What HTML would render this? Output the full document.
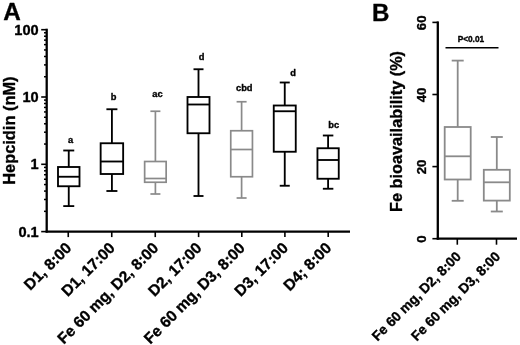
<!DOCTYPE html>
<html><head><meta charset="utf-8"><title>Figure</title>
<style>
html,body{margin:0;padding:0;background:#fff;}
body{width:520px;height:345px;overflow:hidden;}
svg{display:block;will-change:transform;font-family:"Liberation Sans",sans-serif;}
text{stroke:#000;stroke-width:0.35px;stroke-linejoin:round;}
</style></head><body>
<svg width="520" height="345" viewBox="0 0 520 345">
<rect width="520" height="345" fill="#fff"/>
<g stroke="#000" stroke-width="2.3" fill="none" stroke-linecap="butt">
<line x1="46.7" x2="46.7" y1="28.7" y2="232.59999999999997"/>
<line x1="45.7" x2="350" y1="231.59999999999997" y2="231.59999999999997"/>
</g>
<g stroke="#000" stroke-width="1.6" fill="none">
<line x1="41.2" x2="46.7" y1="29.70" y2="29.70"/>
<line x1="41.2" x2="46.7" y1="97.00" y2="97.00"/>
<line x1="41.2" x2="46.7" y1="164.30" y2="164.30"/>
<line x1="41.2" x2="46.7" y1="231.60" y2="231.60"/>
</g>
<g stroke="#000" stroke-width="1.5" fill="none">
<line x1="44.00" x2="46.7" y1="76.74" y2="76.74"/>
<line x1="44.00" x2="46.7" y1="64.89" y2="64.89"/>
<line x1="44.00" x2="46.7" y1="56.48" y2="56.48"/>
<line x1="44.00" x2="46.7" y1="49.96" y2="49.96"/>
<line x1="44.00" x2="46.7" y1="44.63" y2="44.63"/>
<line x1="44.00" x2="46.7" y1="40.12" y2="40.12"/>
<line x1="44.00" x2="46.7" y1="36.22" y2="36.22"/>
<line x1="44.00" x2="46.7" y1="32.78" y2="32.78"/>
<line x1="44.00" x2="46.7" y1="144.04" y2="144.04"/>
<line x1="44.00" x2="46.7" y1="132.19" y2="132.19"/>
<line x1="44.00" x2="46.7" y1="123.78" y2="123.78"/>
<line x1="44.00" x2="46.7" y1="117.26" y2="117.26"/>
<line x1="44.00" x2="46.7" y1="111.93" y2="111.93"/>
<line x1="44.00" x2="46.7" y1="107.42" y2="107.42"/>
<line x1="44.00" x2="46.7" y1="103.52" y2="103.52"/>
<line x1="44.00" x2="46.7" y1="100.08" y2="100.08"/>
<line x1="44.00" x2="46.7" y1="211.34" y2="211.34"/>
<line x1="44.00" x2="46.7" y1="199.49" y2="199.49"/>
<line x1="44.00" x2="46.7" y1="191.08" y2="191.08"/>
<line x1="44.00" x2="46.7" y1="184.56" y2="184.56"/>
<line x1="44.00" x2="46.7" y1="179.23" y2="179.23"/>
<line x1="44.00" x2="46.7" y1="174.72" y2="174.72"/>
<line x1="44.00" x2="46.7" y1="170.82" y2="170.82"/>
<line x1="44.00" x2="46.7" y1="167.38" y2="167.38"/>
</g>
<g stroke="#000" stroke-width="1.6" fill="none">
<line x1="68.25" x2="68.25" y1="231.59999999999997" y2="237.09999999999997"/>
<line x1="111.75" x2="111.75" y1="231.59999999999997" y2="237.09999999999997"/>
<line x1="155.25" x2="155.25" y1="231.59999999999997" y2="237.09999999999997"/>
<line x1="198.6" x2="198.6" y1="231.59999999999997" y2="237.09999999999997"/>
<line x1="241.8" x2="241.8" y1="231.59999999999997" y2="237.09999999999997"/>
<line x1="284.9" x2="284.9" y1="231.59999999999997" y2="237.09999999999997"/>
<line x1="328.2" x2="328.2" y1="231.59999999999997" y2="237.09999999999997"/>
</g>
<g font-size="14.6" font-weight="bold" text-anchor="end" fill="#000">
<text x="38.7" y="34.70">100</text>
<text x="38.7" y="102.00">10</text>
<text x="38.7" y="169.30">1</text>
<text x="38.7" y="236.60">0.1</text>
</g>
<text transform="translate(14.9,130.6) rotate(-90)" font-size="16.4" font-weight="bold" text-anchor="middle">Hepcidin (nM)</text>
<text x="3.2" y="20.4" font-size="24.3" font-weight="bold">A</text>
<g stroke="#000" stroke-width="1.85" fill="none"><rect x="58.00" y="167.00" width="21.50" height="19.25"/><line x1="58.00" x2="79.50" y1="176.75" y2="176.75"/><line x1="68.75" x2="68.75" y1="150.50" y2="167.00"/><line x1="68.75" x2="68.75" y1="186.25" y2="206.10"/><line x1="63.25" x2="74.25" y1="150.50" y2="150.50"/><line x1="63.25" x2="74.25" y1="206.10" y2="206.10"/></g>
<g stroke="#000" stroke-width="1.85" fill="none"><rect x="100.65" y="143.25" width="22.50" height="30.75"/><line x1="100.65" x2="123.15" y1="161.50" y2="161.50"/><line x1="111.90" x2="111.90" y1="109.25" y2="143.25"/><line x1="111.90" x2="111.90" y1="174.00" y2="191.00"/><line x1="106.40" x2="117.40" y1="109.25" y2="109.25"/><line x1="106.40" x2="117.40" y1="191.00" y2="191.00"/></g>
<g stroke="#8a8a8a" stroke-width="1.7" fill="none"><rect x="144.65" y="161.50" width="21.50" height="20.75"/><line x1="144.65" x2="166.15" y1="178.50" y2="178.50"/><line x1="155.40" x2="155.40" y1="111.25" y2="161.50"/><line x1="155.40" x2="155.40" y1="182.25" y2="194.00"/><line x1="150.40" x2="160.40" y1="111.25" y2="111.25"/><line x1="150.40" x2="160.40" y1="194.00" y2="194.00"/></g>
<g stroke="#000" stroke-width="1.85" fill="none"><rect x="187.50" y="97.00" width="22.00" height="36.25"/><line x1="187.50" x2="209.50" y1="104.50" y2="104.50"/><line x1="198.50" x2="198.50" y1="69.25" y2="97.00"/><line x1="198.50" x2="198.50" y1="133.25" y2="196.00"/><line x1="193.50" x2="203.50" y1="69.25" y2="69.25"/><line x1="193.50" x2="203.50" y1="196.00" y2="196.00"/></g>
<g stroke="#8a8a8a" stroke-width="1.7" fill="none"><rect x="230.75" y="130.75" width="21.70" height="46.00"/><line x1="230.75" x2="252.45" y1="149.50" y2="149.50"/><line x1="241.60" x2="241.60" y1="101.75" y2="130.75"/><line x1="241.60" x2="241.60" y1="176.75" y2="198.00"/><line x1="236.60" x2="246.60" y1="101.75" y2="101.75"/><line x1="236.60" x2="246.60" y1="198.00" y2="198.00"/></g>
<g stroke="#000" stroke-width="1.85" fill="none"><rect x="273.75" y="105.50" width="22.00" height="46.25"/><line x1="273.75" x2="295.75" y1="111.25" y2="111.25"/><line x1="284.75" x2="284.75" y1="82.50" y2="105.50"/><line x1="284.75" x2="284.75" y1="151.75" y2="185.75"/><line x1="279.75" x2="289.75" y1="82.50" y2="82.50"/><line x1="279.75" x2="289.75" y1="185.75" y2="185.75"/></g>
<g stroke="#000" stroke-width="1.85" fill="none"><rect x="317.45" y="148.25" width="21.30" height="30.50"/><line x1="317.45" x2="338.75" y1="160.00" y2="160.00"/><line x1="328.10" x2="328.10" y1="135.50" y2="148.25"/><line x1="328.10" x2="328.10" y1="178.75" y2="188.75"/><line x1="322.85" x2="333.35" y1="135.50" y2="135.50"/><line x1="322.85" x2="333.35" y1="188.75" y2="188.75"/></g>
<g font-size="9.3" font-weight="bold" text-anchor="middle" fill="#000">
<text x="70.5" y="143">a</text>
<text x="113.5" y="100">b</text>
<text x="157.5" y="96.5">ac</text>
<text x="201.5" y="60">d</text>
<text x="244.25" y="91">cbd</text>
<text x="293" y="76">d</text>
<text x="333.75" y="128">bc</text>
</g>
<g font-size="15.5" font-weight="bold" text-anchor="end" fill="#000">
<text transform="translate(72.35,249.00) rotate(-45)">D1, 8:00</text>
<text transform="translate(115.85,249.00) rotate(-45)">D1, 17:00</text>
<text transform="translate(159.35,249.00) rotate(-45)">Fe 60 mg, D2, 8:00</text>
<text transform="translate(202.70,249.00) rotate(-45)">D2, 17:00</text>
<text transform="translate(245.90,249.00) rotate(-45)">Fe 60 mg, D3, 8:00</text>
<text transform="translate(289.00,249.00) rotate(-45)">D3, 17:00</text>
<text transform="translate(332.30,249.00) rotate(-45)">D4; 8:00</text>
</g>
<g stroke="#000" stroke-width="2.3" fill="none">
<line x1="437.8" x2="437.8" y1="21.4" y2="239.70000000000002"/>
<line x1="436.8" x2="517" y1="238.70000000000002" y2="238.70000000000002"/>
</g>
<g stroke="#000" stroke-width="1.6" fill="none">
<line x1="432.40" x2="437.8" y1="238.70" y2="238.70"/>
<line x1="432.40" x2="437.8" y1="166.60" y2="166.60"/>
<line x1="432.40" x2="437.8" y1="94.50" y2="94.50"/>
<line x1="432.40" x2="437.8" y1="22.40" y2="22.40"/>
<line x1="457.3" x2="457.3" y1="238.70000000000002" y2="244.70000000000002"/>
<line x1="496.5" x2="496.5" y1="238.70000000000002" y2="244.70000000000002"/>
</g>
<g font-size="13.2" font-weight="bold" text-anchor="middle" fill="#000">
<text transform="translate(426.3,239.10) rotate(-90)">0</text>
<text transform="translate(426.3,167.00) rotate(-90)">20</text>
<text transform="translate(426.3,94.90) rotate(-90)">40</text>
<text transform="translate(426.3,22.80) rotate(-90)">60</text>
</g>
<text transform="translate(402.0,131.5) rotate(-90)" font-size="16.3" font-weight="bold" text-anchor="middle">Fe bioavailability (%)</text>
<text x="371.9" y="21" font-size="24.1" font-weight="bold">B</text>
<g stroke="#8a8a8a" stroke-width="1.8" fill="none"><rect x="444.70" y="127.00" width="26.00" height="52.50"/><line x1="444.70" x2="470.70" y1="156.30" y2="156.30"/><line x1="457.70" x2="457.70" y1="60.60" y2="127.00"/><line x1="457.70" x2="457.70" y1="179.50" y2="200.80"/><line x1="451.70" x2="463.70" y1="60.60" y2="60.60"/><line x1="451.70" x2="463.70" y1="200.80" y2="200.80"/></g>
<g stroke="#8a8a8a" stroke-width="1.8" fill="none"><rect x="483.80" y="169.80" width="26.00" height="30.80"/><line x1="483.80" x2="509.80" y1="182.30" y2="182.30"/><line x1="496.80" x2="496.80" y1="137.00" y2="169.80"/><line x1="496.80" x2="496.80" y1="200.60" y2="211.50"/><line x1="490.80" x2="502.80" y1="137.00" y2="137.00"/><line x1="490.80" x2="502.80" y1="211.50" y2="211.50"/></g>
<line x1="445.5" x2="498.5" y1="47.7" y2="47.7" stroke="#000" stroke-width="1.6"/>
<text x="470.9" y="42.3" font-size="8.3" font-weight="bold" text-anchor="middle">P&lt;0.01</text>
<g font-size="13.7" font-weight="bold" text-anchor="end" fill="#000">
<text transform="translate(461.90,257.30) rotate(-45)">Fe 60 mg, D2, 8:00</text>
<text transform="translate(501.10,257.30) rotate(-45)">Fe 60 mg, D3, 8:00</text>
</g>
</svg>
</body></html>
